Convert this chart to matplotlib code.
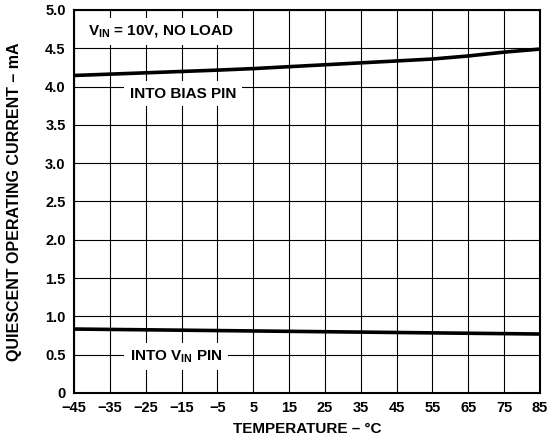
import matplotlib
matplotlib.use("Agg")
import matplotlib.pyplot as plt

plt.rcParams['font.family'] = ['Liberation Sans', 'DejaVu Sans']
plt.rcParams['font.weight'] = 'bold'
plt.rcParams['mathtext.fontset'] = 'custom'
plt.rcParams['mathtext.bf'] = 'Liberation Sans:bold'
plt.rcParams['mathtext.rm'] = 'Liberation Sans:bold'

temp_ticks = [-45, -35, -25, -15, -5, 5, 15, 25, 35, 45, 55, 65, 75, 85]
tick_labels = ['\u221245', '\u221235', '\u221225', '\u221215', '\u22125', '5', '15', '25', '35', '45', '55', '65', '75', '85']
y_ticks = [0, 0.5, 1.0, 1.5, 2.0, 2.5, 3.0, 3.5, 4.0, 4.5, 5.0]
y_labels = ['0', '0.5', '1.0', '1.5', '2.0', '2.5', '3.0', '3.5', '4.0', '4.5', '5.0']

bias_temp = [-45, -25, -5, 5, 25, 45, 55, 65, 75, 85]
bias_current = [4.145, 4.18, 4.215, 4.235, 4.285, 4.335, 4.36, 4.40, 4.45, 4.49]
vin_temp = [-45, 5, 85]
vin_current = [0.835, 0.81, 0.77]

fig = plt.figure(figsize=(5.52, 4.42), dpi=100)
ax = fig.add_axes([74/552, 1-393/442, (540-74)/552, (393-10)/442])

ax.plot(bias_temp, bias_current, color='black', lw=2.6, solid_capstyle='butt', zorder=4)
ax.plot(vin_temp, vin_current, color='black', lw=2.6, solid_capstyle='butt', zorder=4)

ax.set_xlim(-45, 85)
ax.set_ylim(0, 5)
ax.set_xticks(temp_ticks)
ax.set_xticklabels(tick_labels)
ax.set_yticks(y_ticks)
ax.set_yticklabels(y_labels)
ax.tick_params(length=0, labelsize=10.5)
ax.tick_params(axis='x', pad=6)
ax.tick_params(axis='y', pad=6)
ax.grid(True, color='black', lw=0.8, zorder=1)
ax.set_axisbelow(True)
for s in ax.spines.values():
    s.set_linewidth(1.5)
    s.set_zorder(5)

ax.set_xlabel('TEMPERATURE \u2013 \u00b0C', fontsize=11, fontweight='bold')
ax.set_ylabel('QUIESCENT OPERATING CURRENT \u2013 mA', fontsize=11.5, fontweight='bold')
ax.xaxis.set_label_coords(0.5, -(429-393)/383, transform=ax.transAxes)
ax.xaxis.label.set_va('center')
ax.yaxis.set_label_coords(-(74-15)/466, 0.5, transform=ax.transAxes)
ax.yaxis.label.set_va('center')

bbox = dict(facecolor='white', edgecolor='none', pad=4)
ax.text(-41.1, 4.674, 'V$_{\\mathbf{IN}}$ = 10V, NO LOAD', fontsize=11, fontweight='bold',
        ha='left', va='baseline', bbox=bbox, zorder=3)
ax.text(-29.4, 3.855, 'INTO BIAS PIN', fontsize=11, fontweight='bold',
        ha='left', va='baseline', bbox=bbox, zorder=3)
ax.text(-29.4, 0.43, 'INTO V$_{\\mathbf{IN}}$ PIN', fontsize=11, fontweight='bold',
        ha='left', va='baseline', bbox=bbox, zorder=3)

fig.savefig('out.png', dpi=100)
